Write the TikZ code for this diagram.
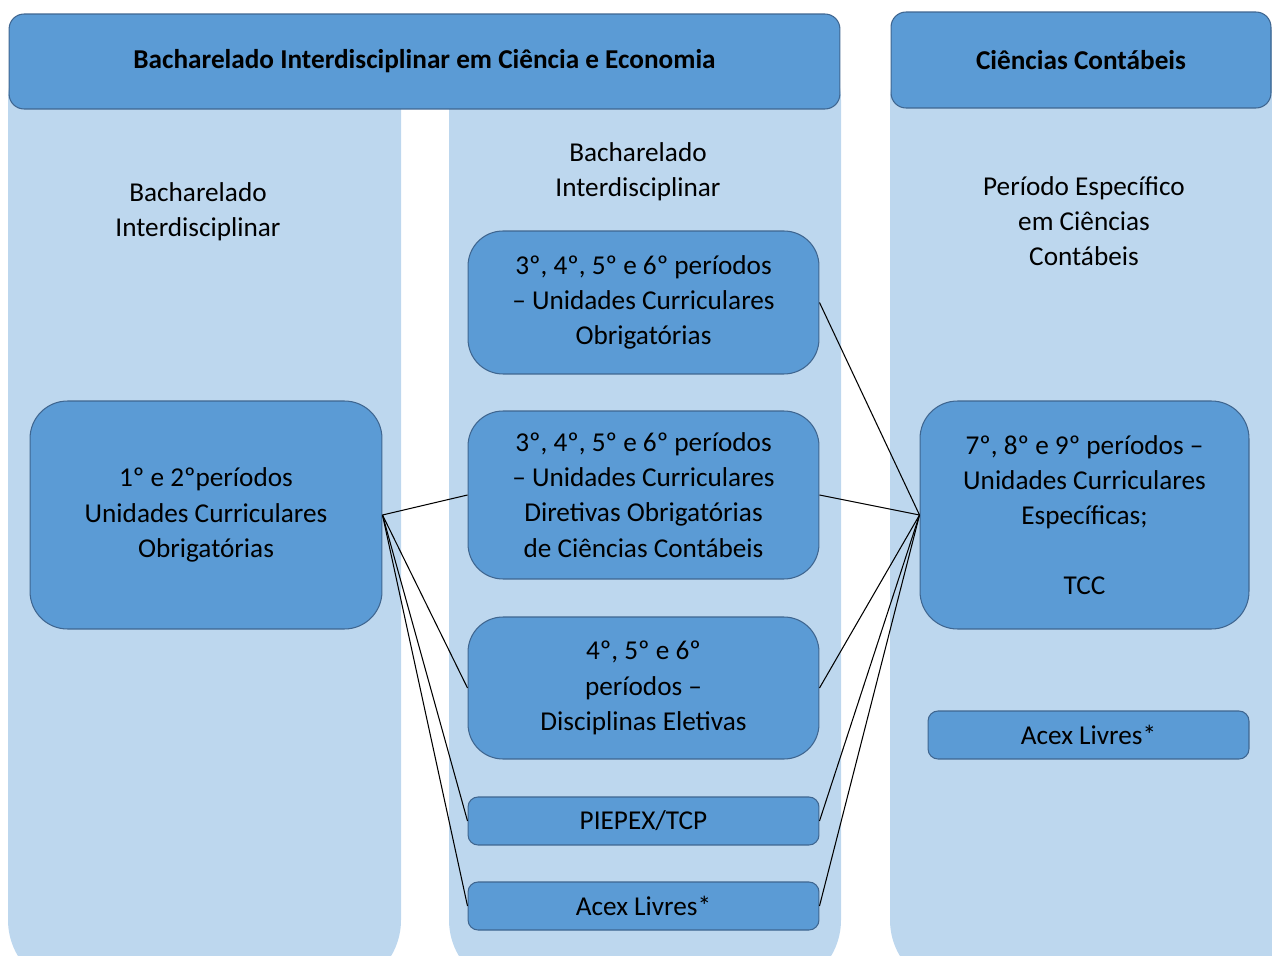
\documentclass[tikz,border=0pt]{standalone}
\usepackage{fontspec}
\setmainfont{Carlito}
\definecolor{lightcol}{HTML}{BDD7EE}
\definecolor{boxblue}{HTML}{5B9BD5}
\definecolor{borderblue}{HTML}{3F6690}
\begin{document}
\begin{tikzpicture}[x=0.02cm,y=-0.02cm]
\tikzstyle{header} = [rectangle, rounded corners=0.3cm, draw=borderblue, fill=boxblue, line width=0.6pt, font=\bfseries\fontsize{15.5}{18}\selectfont]
\tikzstyle{roundrect} = [rectangle, rounded corners=0.75cm, align=center, draw=borderblue, fill=boxblue, line width=0.6pt, font=\fontsize{15.5}{20}\selectfont]
\tikzstyle{bar} = [roundrect, rounded corners=0.2cm, minimum height=0.96cm]
\tikzstyle{collabel} = [align=center, font=\fontsize{15.5}{20}\selectfont]
\tikzstyle{link} = [draw=black, line width=0.6pt]
\useasboundingbox (0,0) rectangle (1272,956);
\clip (0,0) rectangle (1272,956);
% columns
\fill[lightcol, rounded corners=1.4cm] (8,30) rectangle (401,990);
\fill[lightcol, rounded corners=1.4cm] (449,30) rectangle (841,990);
\fill[lightcol, rounded corners=1.4cm] (890,30) rectangle (1340,990);
% headers
\node (H1)[header, minimum width=16.62cm, minimum height=1.9cm] at (424.5,61.5) {Bacharelado Interdisciplinar em Ciência e Economia};
\node (H2)[header, minimum width=7.6cm, minimum height=1.92cm] at (1081,60) {Ciências Contábeis};
% column titles
\node (tL)[collabel] at (198,212) {Bacharelado\\Interdisciplinar};
\node (tM)[collabel] at (638,172) {Bacharelado\\Interdisciplinar};
\node (tR)[collabel] at (1084,221) {Período Específico\\em Ciências\\Contábeis};
% boxes
\node (L1)[roundrect, minimum width=7.04cm, minimum height=4.56cm] at (206,515) {1º e 2ºperíodos\\Unidades Curriculares\\Obrigatórias};
\node (M1)[roundrect, minimum width=7.02cm, minimum height=2.86cm, rounded corners=0.7cm] at (643.5,302.5) {3º, 4º, 5º e 6º períodos\\– Unidades Curriculares\\Obrigatórias};
\node (M2)[roundrect, minimum width=7.02cm, minimum height=3.36cm, rounded corners=0.7cm] at (643.5,495) {3º, 4º, 5º e 6º períodos\\– Unidades Curriculares\\Diretivas Obrigatórias\\de Ciências Contábeis};
\node (M3)[roundrect, minimum width=7.02cm, minimum height=2.84cm, rounded corners=0.7cm] at (643.5,688) {4º, 5º e 6º\\períodos –\\Disciplinas Eletivas};
\node (M4)[bar, minimum width=7.02cm] at (643.5,821) {PIEPEX/TCP};
\node (M5)[bar, minimum width=7.02cm] at (643.5,906) {Acex Livres*};
\node (R1)[roundrect, minimum width=6.58cm, minimum height=4.56cm] at (1084.5,515) {7º, 8º e 9º períodos –\\Unidades Curriculares\\Específicas;\\[20pt]TCC};
\node (R2)[bar, minimum width=6.42cm] at (1088.5,735) {Acex Livres*};
% connectors
\foreach \m in {M2,M3,M4,M5}
  \draw [link] (L1.east) -- (\m.west);
\foreach \m in {M1,M2,M3,M4,M5}
  \draw [link] (\m.east) -- (R1.west);
\end{tikzpicture}
\end{document}
